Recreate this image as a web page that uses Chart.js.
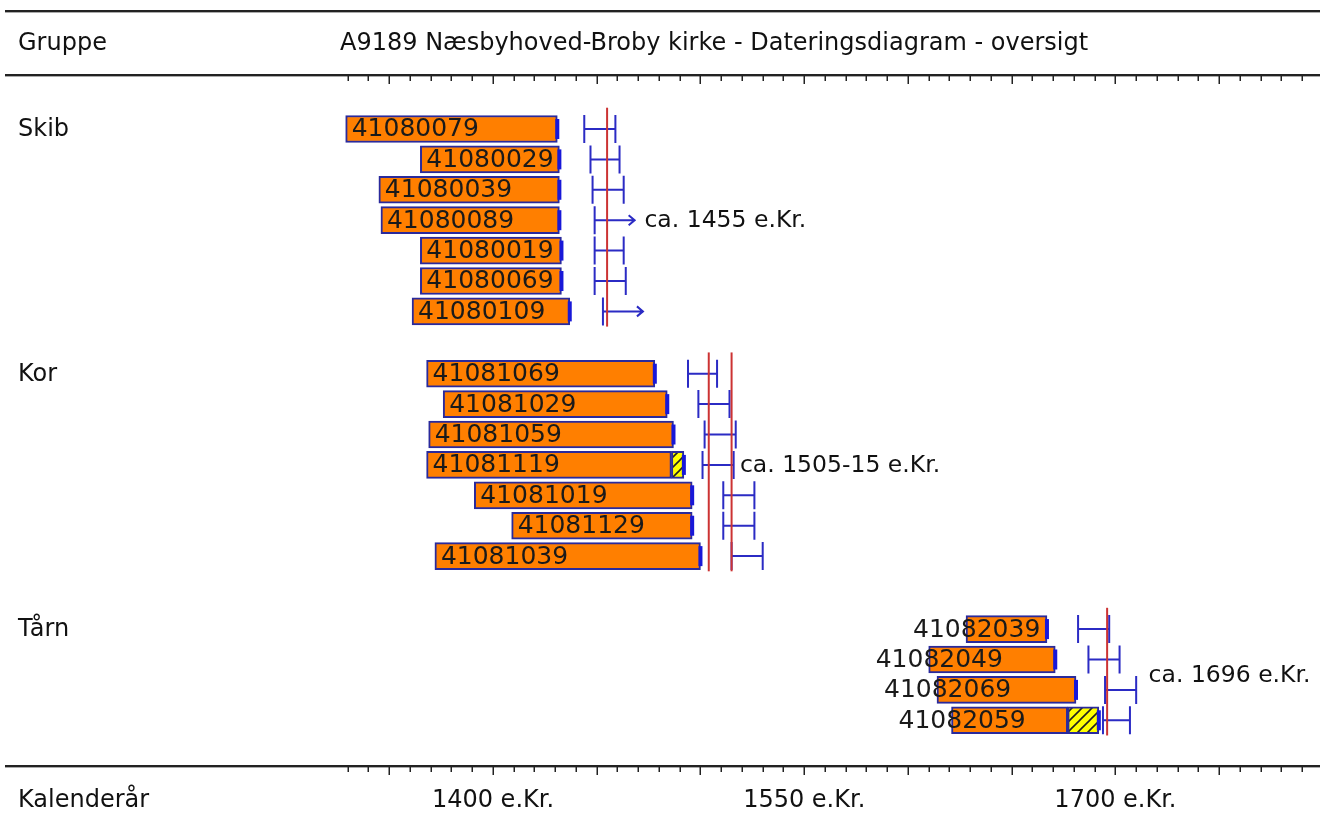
<!DOCTYPE html>
<html>
<head>
<meta charset="utf-8">
<script src="https://cdn.jsdelivr.net/npm/chart.js@4.4.1/dist/chart.umd.min.js"></script>
<style>
  html, body { margin: 0; padding: 0; background: #fff; }
  #wrap { width: 1320px; height: 822px; position: relative; }
</style>
</head>
<body>
<div id="wrap"><canvas id="graf"></canvas></div>
<script>
// --- data (years) ---
const groups = ['Skib', 'Kor', 'Tårn'];

const skibIds   = ['41080079', '41080029', '41080039', '41080089', '41080019', '41080069', '41080109'];
const skibStart = [1329, 1365, 1345, 1346, 1365, 1365, 1361];
const skibEnd   = [1431, 1432, 1432, 1432, 1433, 1433, 1437];
const skibHatch = [null, null, null, null, null, null, null];
const skibErrLo = [1444, 1447, 1448, 1449, 1449, 1449, 1453];
const skibErrHi = [1459, 1461, 1463, null, 1463, 1464, null];

const korIds   = ['41081069', '41081029', '41081059', '41081119', '41081019', '41081129', '41081039'];
const korStart = [1368, 1376, 1369, 1368, 1391, 1409, 1372];
const korEnd   = [1478, 1484, 1487, 1486, 1496, 1496, 1500];
const korHatch = [null, null, null, 1492, null, null, null];
const korErrLo = [1494, 1499, 1502, 1501, 1511, 1511, 1515];
const korErrHi = [1508, 1514, 1517, 1516, 1526, 1526, 1530];

const taarnIds   = ['41082039', '41082049', '41082069', '41082059'];
const taarnStart = [1628, 1610, 1614, 1621];
const taarnEnd   = [1667, 1671, 1681, 1677];
const taarnHatch = [null, null, null, 1692];
const taarnErrLo = [1682, 1687, 1695, 1694];
const taarnErrHi = [1697, 1702, 1710, 1707];

const datingYears = [[1455], [1504, 1515], [1696]];
const datingNotes = ['ca. 1455 e.Kr.', 'ca. 1505-15 e.Kr.', 'ca. 1696 e.Kr.'];

const tickLabelYears = [1400, 1550, 1700];
const tickLabels = ['1400 e.Kr.', '1550 e.Kr.', '1700 e.Kr.'];

const title = 'A9189 Næsbyhoved-Broby kirke - Dateringsdiagram - oversigt';

// --- layout (not data) ---
const groupRow0 = [0, 8.05, 16.45];     // first row of each group on the y scale
const labelShift = [6, 6, -53];         // px from bar start to sample label
const noteAt = [{ row: 3, year: 1473 }, { row: 3, year: 1519 }, { row: 1.5, year: 1716 }];
const FONT = '"DejaVu Sans", Verdana, sans-serif';

const sets = [
  [skibIds, skibStart, skibEnd, skibHatch, skibErrLo, skibErrHi],
  [korIds, korStart, korEnd, korHatch, korErrLo, korErrHi],
  [taarnIds, taarnStart, taarnEnd, taarnHatch, taarnErrLo, taarnErrHi]
];
const rows = [];
sets.forEach((s, g) => {
  s[0].forEach((id, i) => {
    rows.push({ g, id, v: groupRow0[g] + i, start: s[1][i], end: s[2][i], hatch: s[3][i], lo: s[4][i], hi: s[5][i] });
  });
});

function hatchPattern(ctx) {
  const p = document.createElement('canvas');
  p.width = 10; p.height = 10;
  const g = p.getContext('2d');
  g.fillStyle = '#ffff00';
  g.fillRect(0, 0, 10, 10);
  g.strokeStyle = '#222';
  g.lineWidth = 1.6;
  g.beginPath();
  g.moveTo(0, 10); g.lineTo(10, 0);
  g.moveTo(-5, 5); g.lineTo(5, -5);
  g.moveTo(5, 15); g.lineTo(15, 5);
  g.stroke();
  return ctx.createPattern(p, 'repeat');
}

const deco = {
  id: 'deco',
  afterDatasetsDraw(chart) {
    const ctx = chart.ctx;
    const xs = chart.scales.x, ys = chart.scales.y;
    const px = v => xs.getPixelForValue(v);
    const py = v => ys.getPixelForValue(v);
    ctx.save();

    // header / axis rules
    function rule(y) {
      ctx.fillStyle = '#222';
      ctx.fillRect(5, y - 1, 1315, 2);
      ctx.fillStyle = '#aaa';
      ctx.fillRect(5, y + 1, 1315, 1);
    }
    rule(11); rule(75); rule(766);
    ctx.fillStyle = '#222';
    [75, 766].forEach(y => {
      for (let yr = 1330; yr <= 1790; yr += 10) {
        const len = yr % 50 === 0 ? 8 : 5;
        ctx.fillRect(Math.round(px(yr)) - 0.5, y + 1, 1.5, len);
      }
    });

    // texts in header/footer
    ctx.fillStyle = '#111';
    ctx.textBaseline = 'middle';
    ctx.textAlign = 'left';
    ctx.font = '24px ' + FONT;
    ctx.fillText('Gruppe', 18, 44);
    ctx.fillText(title, 340, 44);
    ctx.fillText('Kalenderår', 18, 801);
    ctx.textAlign = 'center';
    tickLabelYears.forEach((yr, i) => ctx.fillText(tickLabels[i], px(yr), 801));
    ctx.textAlign = 'left';
    groups.forEach((g, i) => ctx.fillText(g, 18, py(groupRow0[i]) + 1));

    // bar end markers and sample labels
    rows.forEach(r => {
      const yc = py(r.v);
      const xe = px(r.hatch != null ? r.hatch : r.end);
      ctx.fillStyle = '#1818d8';
      ctx.fillRect(xe - 2, yc - 10, 4, 20);
      ctx.fillStyle = '#1a1a1a';
      ctx.font = '25px ' + FONT;
      ctx.fillText(r.id, px(r.start) + labelShift[r.g], yc + 1);
    });

    // error bars
    ctx.strokeStyle = '#2b2bc4';
    ctx.lineWidth = 2;
    rows.forEach(r => {
      const yc = py(r.v);
      const x1 = px(r.lo);
      ctx.beginPath();
      ctx.moveTo(x1, yc - 14); ctx.lineTo(x1, yc + 14);
      if (r.hi != null) {
        const x2 = px(r.hi);
        ctx.moveTo(x1, yc); ctx.lineTo(x2, yc);
        ctx.moveTo(x2, yc - 14); ctx.lineTo(x2, yc + 14);
      } else {
        const x2 = x1 + 40;
        ctx.moveTo(x1, yc); ctx.lineTo(x2, yc);
        ctx.moveTo(x2 - 6, yc - 5); ctx.lineTo(x2, yc); ctx.lineTo(x2 - 6, yc + 5);
      }
      ctx.stroke();
    });

    // dating lines
    ctx.strokeStyle = '#cc3333';
    ctx.lineWidth = 2;
    datingYears.forEach((yrs, g) => {
      const n = sets[g][0].length;
      const y1 = py(groupRow0[g] - 0.7), y2 = py(groupRow0[g] + n - 1 + 0.5);
      yrs.forEach(yr => {
        ctx.beginPath();
        ctx.moveTo(px(yr), y1); ctx.lineTo(px(yr), y2);
        ctx.stroke();
      });
    });

    // notes
    ctx.fillStyle = '#111';
    ctx.font = '23.5px ' + FONT;
    datingNotes.forEach((t, g) => {
      ctx.fillText(t, px(noteAt[g].year), py(groupRow0[g] + noteAt[g].row) + 1);
    });

    ctx.restore();
  }
};

const ctx = document.getElementById('graf').getContext('2d');
new Chart(ctx, {
  type: 'bar',
  data: {
    datasets: [
      {
        label: 'Prøver',
        data: rows.map(r => ({ x: [r.start, r.end], y: r.v })),
        backgroundColor: '#ff7f00',
        borderColor: '#2a2a9c',
        borderWidth: 2,
        borderSkipped: false,
        barThickness: 27
      },
      {
        label: 'Splint',
        data: rows.filter(r => r.hatch != null).map(r => ({ x: [r.end, r.hatch], y: r.v })),
        backgroundColor: hatchPattern(ctx),
        borderColor: '#2a2a9c',
        borderWidth: 2,
        borderSkipped: false,
        barThickness: 27
      }
    ]
  },
  options: {
    indexAxis: 'y',
    responsive: true,
    maintainAspectRatio: false,
    animation: false,
    events: [],
    grouped: false,
    layout: { padding: 0 },
    plugins: {
      legend: { display: false },
      tooltip: { enabled: false }
    },
    scales: {
      x: { type: 'linear', display: false, min: 1162.4, max: 1798.6 },
      y: { type: 'linear', display: false, offset: false, reverse: true, min: -4.243, max: 22.796 }
    }
  },
  plugins: [deco]
});
</script>
</body>
</html>
